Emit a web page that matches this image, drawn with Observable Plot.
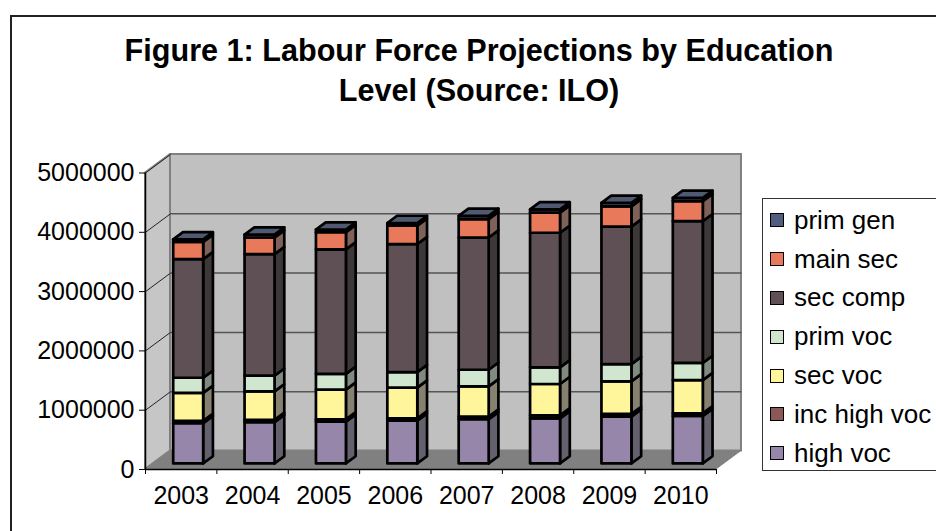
<!DOCTYPE html>
<html>
<head>
<meta charset="utf-8">
<script src="https://cdn.jsdelivr.net/npm/d3@7"></script>
<script src="https://cdn.jsdelivr.net/npm/@observablehq/plot@0.6"></script>
<style>
  body { margin: 0; background: #fff; font-family: "Liberation Sans", Arial, sans-serif; }
  #wrap { position: relative; width: 936px; height: 531px; overflow: hidden; background: #fff; }
  #frame { position: absolute; left: 10px; top: 15px; width: 960px; height: 560px; border-left: 2px solid #222; border-top: 2px solid #222; }
  #chart { position: absolute; left: 0; top: 0; }
  #title { position: absolute; left: 79px; top: 30px; width: 800px; text-align: center; font-weight: bold; font-size: 30.6px; line-height: 40px; color: #000; }
  #legend { position: absolute; left: 762px; top: 198px; width: 220px; height: 273px; border: 1px solid #333; background: #fff; box-sizing: border-box; padding-top: 2px; }
  .row { height: 38.8px; display: flex; align-items: center; font-size: 26px; color: #000; }
  .sw { width: 12px; height: 12px; border: 1.5px solid #000; margin-left: 7px; margin-right: 10px; flex: none; }
</style>
</head>
<body>
<div id="wrap">
  <div id="frame"></div>
  <div id="chart"></div>
  <div id="title">Figure 1: Labour Force Projections by Education<br>Level (Source: ILO)</div>
  <div id="legend"></div>
</div>
<script>
// ---- data ----
const years = [2003, 2004, 2005, 2006, 2007, 2008, 2009, 2010];
const highVoc    = [680000, 695000, 705000, 720000, 745000, 760000, 790000, 800000];
const incHighVoc = [40000, 40000, 40000, 40000, 45000, 50000, 45000, 45000];
const secVoc     = [470000, 480000, 500000, 520000, 510000, 530000, 550000, 560000];
const primVoc    = [255000, 265000, 265000, 260000, 280000, 280000, 290000, 290000];
const secComp    = [2000000, 2050000, 2100000, 2160000, 2230000, 2270000, 2320000, 2390000];
const mainSec    = [290000, 280000, 290000, 310000, 310000, 340000, 340000, 340000];
const primGen    = [45000, 50000, 45000, 45000, 55000, 55000, 60000, 55000];
const seriesNames = ["high voc", "inc high voc", "sec voc", "prim voc", "sec comp", "main sec", "prim gen"];
const yTicks = [0, 1000000, 2000000, 3000000, 4000000, 5000000];

// ---- styles ----
const frontColors = ["#9687aa", "#8b5858", "#fff59b", "#d0e6cf", "#5f5055", "#e8795b", "#4f5e7e"];
const sideColors  = ["#65606e", "#5a4040", "#858070", "#808a80", "#3c3838", "#7e6158", "#50505a"];
const topColor = "#4f5a72";

const seriesValues = [highVoc, incHighVoc, secVoc, primVoc, secComp, mainSec, primGen];

// 3D geometry in data units
const x0 = years[0] - 0.5, x1 = years[years.length - 1] + 0.5;
const yMax = yTicks[yTicks.length - 1];
const D = 0.35;        // wall depth in x (years)
const E = 312000;      // wall depth in y (value units)
const f0 = 0.3;        // bar front depth fraction
const bf = 0.39;       // bar depth fraction
const hw = 0.21;       // bar half width
const bd = bf * D, be = bf * E;
const ox = f0 * D, oy = f0 * E;

// stacked segments
const segs = [];
years.forEach((yr, i) => {
  let cum = 0;
  seriesValues.forEach((arr, s) => {
    const a = cum, b = cum + arr[i];
    cum = b;
    segs.push({id: yr + "-" + s, year: yr, s, a, b, top: s === seriesValues.length - 1});
  });
});
const sidePts = segs.flatMap(d => {
  const xr = d.year + ox + hw;
  return [
    {id: d.id, x: xr, y1: d.a + oy, y2: d.b + oy, fill: sideColors[d.s]},
    {id: d.id, x: xr + bd, y1: d.a + oy + be, y2: d.b + oy + be, fill: sideColors[d.s]}
  ];
});
const topPts = segs.filter(d => d.top).flatMap(d => {
  const xl = d.year + ox - hw, xr = d.year + ox + hw;
  return [
    {id: d.id, y: d.b + oy, x1: xl, x2: xr},
    {id: d.id, y: d.b + oy + be, x1: xl + bd, x2: xr + bd}
  ];
});

const leftWall = [{x: x0, y1: 0, y2: yMax}, {x: x0 + D, y1: E, y2: yMax + E}];
const floor = [{y: 0, x1: x0, x2: x1}, {y: E, x1: x0 + D, x2: x1 + D}];
const gridVals = yTicks.slice(1, -1);
const boundaries = years.map(y => y - 0.5).concat([x1]);

const plot = Plot.plot({
  width: 936,
  height: 531,
  marginLeft: 145,
  marginRight: 220,
  marginTop: 172.5,
  marginBottom: 62,
  x: {domain: [x0, x1]},
  y: {domain: [0, yMax]},
  color: {type: "identity"},
  style: {fontFamily: "'Liberation Sans', Arial, sans-serif", background: "transparent", overflow: "visible"},
  marks: [
    // back wall
    Plot.rect([0], {x1: x0 + D, x2: x1 + D, y1: E, y2: yMax + E, fill: "#c0c0c0", stroke: "#808080", strokeWidth: 2}),
    // left wall
    Plot.areaY(leftWall, {x: "x", y1: "y1", y2: "y2", fill: "#c6c6c6", stroke: "#808080", strokeWidth: 2}),
    // floor
    Plot.areaX(floor, {y: "y", x1: "x1", x2: "x2", fill: "#808080", stroke: "#808080", strokeWidth: 1}),
    // gridlines on back wall
    Plot.link(gridVals, {x1: x0 + D, x2: x1 + D, y1: d => d + E, y2: d => d + E, stroke: "#555", strokeWidth: 1.5}),
    // gridlines on left wall
    Plot.link(gridVals.concat([yMax]), {x1: x0, x2: x0 + D, y1: d => d, y2: d => d + E, stroke: "#222", strokeWidth: 1}),
    // axis lines
    Plot.ruleX([x0], {y1: 0, y2: yMax, stroke: "#000", strokeWidth: 1.5}),
    Plot.ruleY([0], {x1: x0, x2: x1, stroke: "#000", strokeWidth: 1.5}),
    // bars: sides, fronts, tops
    Plot.areaY(sidePts, {x: "x", y1: "y1", y2: "y2", z: "id", fill: "fill", stroke: "#000", strokeWidth: 2.7, strokeLinejoin: "round"}),
    Plot.rect(segs, {x1: d => d.year + ox - hw, x2: d => d.year + ox + hw, y1: d => d.a + oy, y2: d => d.b + oy,
      fill: d => frontColors[d.s], stroke: "#000", strokeWidth: 2.7, strokeLinejoin: "round"}),
    Plot.areaX(topPts, {y: "y", x1: "x1", x2: "x2", z: "id", fill: topColor, stroke: "#000", strokeWidth: 2.7, strokeLinejoin: "round"}),
    // axes
    Plot.axisY({ticks: yTicks, tickSize: 6, tickPadding: 5, tickFormat: d => String(d), fontSize: 25, label: null, anchor: "left"}),
    Plot.axisX({ticks: boundaries, tickSize: 5, tickFormat: () => "", label: null, anchor: "bottom"}),
    Plot.axisX({ticks: years, tickSize: 0, tickPadding: 17, tickFormat: d => String(d), fontSize: 25, label: null, anchor: "bottom"})
  ]
});
document.getElementById("chart").appendChild(plot);

// legend (top to bottom: reverse stacking order)
const legend = document.getElementById("legend");
seriesNames.map((n, i) => ({n, c: frontColors[i]})).reverse().forEach(({n, c}) => {
  const row = document.createElement("div");
  row.className = "row";
  const sw = document.createElement("span");
  sw.className = "sw";
  sw.style.background = c;
  const t = document.createElement("span");
  t.textContent = n;
  row.appendChild(sw);
  row.appendChild(t);
  legend.appendChild(row);
});
</script>
</body>
</html>
